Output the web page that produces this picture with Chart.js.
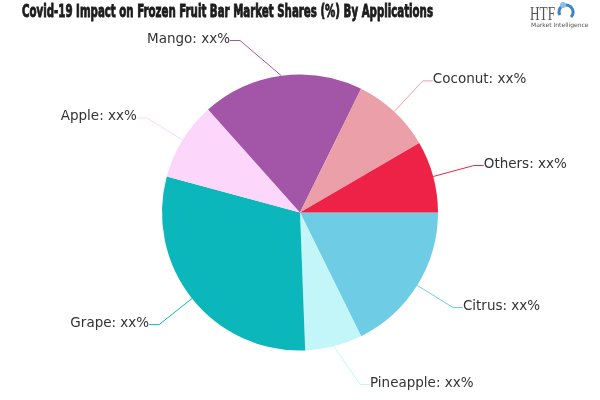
<!DOCTYPE html>
<html>
<head>
<meta charset="utf-8">
<script src="https://cdn.jsdelivr.net/npm/chart.js@4.4.1/dist/chart.umd.min.js"></script>
<style>
html, body { margin: 0; padding: 0; background: #fff; }
#wrap { width: 600px; height: 400px; position: relative; }
</style>
</head>
<body>
<div id="wrap"><canvas id="graficaPie"></canvas></div>
<script>
const titulo = "Covid-19 Impact on Frozen Fruit Bar Market Shares (%) By Applications";
const categorias = ["Citrus", "Pineapple", "Grape", "Apple", "Mango", "Coconut", "Others"];
const valores = [17.7, 6.7, 29.8, 9.2, 18.9, 9.3, 8.4];
const etiquetas = ["xx%", "xx%", "xx%", "xx%", "xx%", "xx%", "xx%"];
const colores = ["#6ecde5", "#c2f6f8", "#0bb7bb", "#fcd7fb", "#a355a8", "#eb9fa8", "#ee2247"];

// titulo + logo
const tituloPlugin = {
  id: "tituloPlugin",
  afterDraw(chart) {
    const ctx = chart.ctx;
    ctx.save();
    ctx.font = "bold 18px 'Liberation Sans Narrow', 'DejaVu Sans Condensed', sans-serif";
    ctx.fillStyle = "#1c1c1c";
    ctx.strokeStyle = "#1c1c1c";
    ctx.lineWidth = 0.9;
    ctx.textBaseline = "alphabetic";
    const w = ctx.measureText(titulo).width;
    ctx.translate(22, 17);
    ctx.scale(411 / w, 1);
    ctx.fillText(titulo, 0, 0);
    ctx.strokeText(titulo, 0, 0);
    ctx.restore();

    // logo HTF
    ctx.save();
    ctx.font = "18px 'Liberation Serif', serif";
    ctx.fillStyle = "#555";
    ctx.textBaseline = "alphabetic";
    const lw = ctx.measureText("HTF").width;
    ctx.translate(530, 20);
    ctx.scale(25 / lw, 1);
    ctx.fillText("HTF", 0, 0);
    ctx.restore();
    ctx.save();
    ctx.lineWidth = 3;
    ctx.strokeStyle = "#3d86c6";
    ctx.beginPath();
    ctx.arc(566, 12, 7, Math.PI * 0.85, Math.PI * 2.25);
    ctx.stroke();
    ctx.fillStyle = "#8cc0ea";
    ctx.beginPath();
    ctx.arc(563, 5, 3, 0, Math.PI * 2);
    ctx.fill();
    ctx.font = "6px 'DejaVu Sans', sans-serif";
    ctx.fillStyle = "#555";
    ctx.fillText("Market Intelligence", 531, 27);
    ctx.restore();
  }
};

// etiquetas con lineas guia
const guiaPlugin = {
  id: "guiaPlugin",
  afterDatasetsDraw(chart) {
    const ctx = chart.ctx;
    const meta = chart.getDatasetMeta(0);
    ctx.save();
    ctx.font = "13.5px 'DejaVu Sans', sans-serif";
    ctx.textBaseline = "middle";
    meta.data.forEach((arc, i) => {
      const mid = (arc.startAngle + arc.endAngle) / 2;
      const c = Math.cos(mid), s = Math.sin(mid);
      const r = arc.outerRadius;
      const x0 = arc.x + r * c, y0 = arc.y + r * s;
      let dx = 180 * c, dy = 180 * s;
      if (Math.abs(c) < 0.3) {
        dx = (c < 0 ? -1 : 1) * 60;
        dy = (s < 0 ? -1 : 1) * 172;
      }
      const x1 = arc.x + dx, y1 = arc.y + dy;
      const lado = dx < 0 ? -1 : 1;
      const x2 = x1 + lado * 10;
      ctx.strokeStyle = colores[i];
      ctx.lineWidth = 1;
      ctx.beginPath();
      ctx.moveTo(x0, y0);
      ctx.lineTo(x1, y1);
      ctx.lineTo(x2, y1);
      ctx.stroke();
      ctx.fillStyle = "#333";
      ctx.textAlign = lado < 0 ? "right" : "left";
      ctx.fillText(categorias[i] + ": " + etiquetas[i], x2, y1 - 1);
    });
    ctx.restore();
  }
};

new Chart(document.getElementById("graficaPie"), {
  type: "pie",
  data: {
    labels: categorias,
    datasets: [{
      data: valores,
      backgroundColor: colores,
      borderWidth: 0
    }]
  },
  options: {
    responsive: true,
    maintainAspectRatio: false,
    animation: false,
    rotation: 90,
    layout: { padding: { top: 74, bottom: 49, left: 162, right: 162 } },
    plugins: {
      legend: { display: false },
      tooltip: { enabled: false },
      title: { display: false }
    }
  },
  plugins: [guiaPlugin, tituloPlugin]
});
</script>
</body>
</html>
